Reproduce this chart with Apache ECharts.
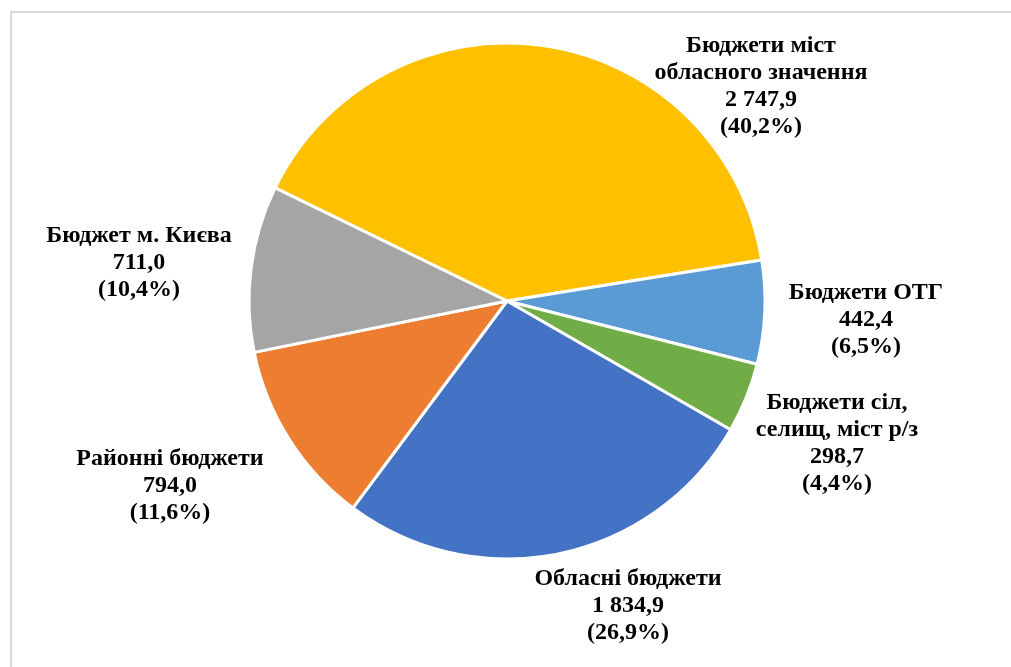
<!DOCTYPE html>
<html>
<head>
<meta charset="utf-8">
<script src="https://cdn.jsdelivr.net/npm/echarts@6/dist/echarts.min.js"></script>
<style>
  html, body { margin: 0; padding: 0; background: #fff; overflow: hidden; }
  #frame {
    position: absolute; left: 10px; top: 11px; width: 1100px; height: 700px;
    border-left: 2px solid #d9d9d9; border-top: 2px solid #d9d9d9;
  }
  #chart { position: absolute; left: 0; top: 0; width: 1011px; height: 667px; }
</style>
</head>
<body>
<div id="frame"></div>
<div id="chart"></div>
<script>
// Budget revenues by level (values as shown on the chart)
const categories = [
  'Бюджети міст\nобласного значення',
  'Бюджети ОТГ',
  'Бюджети сіл,\nселищ, міст р/з',
  'Обласні бюджети',
  'Районні бюджети',
  'Бюджет м. Києва'
];
const values = [2747.9, 442.4, 298.7, 1834.9, 794.0, 711.0];
const colors = ['#FFC000', '#5B9BD5', '#70AD47', '#4472C4', '#ED7D31', '#A5A5A5'];

// where Excel put each data label (centre of the text block)
const labelPos = [
  [761, 86], [866, 320], [837, 443], [628, 606], [170, 486], [139, 263]
];

const fmtNum = (v) => {
  const parts = v.toFixed(1).split('.');
  const int = parts[0].replace(/\B(?=(\d{3})+(?!\d))/g, ' ');
  return int + ',' + parts[1];
};

const chart = echarts.init(document.getElementById('chart'));

chart.setOption({
  animation: false,
  series: [
    {
      type: 'pie',
      center: [507, 301],
      radius: 258,
      startAngle: 154,
      clockwise: true,
      percentPrecision: 1,
      itemStyle: { borderColor: '#fff', borderWidth: 3 },
      label: {
        show: true,
        position: 'outside',
        color: '#000',
        fontFamily: '"Liberation Serif", "Times New Roman", serif',
        fontWeight: 'bold',
        fontSize: 24,
        lineHeight: 27,
        align: 'center',
        formatter: (p) => p.name + '\n' + fmtNum(p.value) + '\n(' + p.percent.toFixed(1).replace('.', ',') + '%)'
      },
      labelLine: { show: false },
      labelLayout: (params) => ({
        x: labelPos[params.dataIndex][0],
        y: labelPos[params.dataIndex][1],
        align: 'center',
        verticalAlign: 'middle'
      }),
      data: categories.map((name, i) => ({
        name: name,
        value: values[i],
        itemStyle: { color: colors[i] }
      }))
    }
  ]
});

window.addEventListener('resize', () => chart.resize());
</script>
</body>
</html>
